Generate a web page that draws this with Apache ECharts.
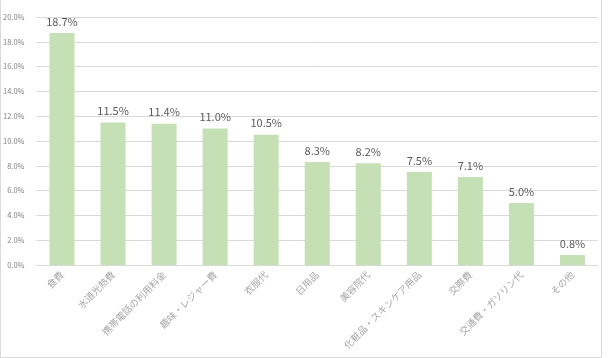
<!DOCTYPE html>
<html><head><meta charset="utf-8">
<script src="https://cdn.jsdelivr.net/npm/echarts@6/dist/echarts.min.js"></script>
<style>html,body{margin:0;padding:0;background:#fff}#c{width:608px;height:358px}#f{position:absolute;left:0;top:0;width:602px;height:358px;box-sizing:border-box;border:1px solid #d9d9d9;border-top:none;pointer-events:none}</style>
</head><body><div id="c"></div><div id="f"></div>
<script>
const categories = ['食費','水道光熱費','携帯電話の利用料金','趣味・レジャー費','衣服代','日用品','美容院代','化粧品・スキンケア用品','交際費','交通費・ガソリン代','その他'];
const values = [18.7,11.5,11.4,11.0,10.5,8.3,8.2,7.5,7.1,5.0,0.8];
const chart = echarts.init(document.getElementById('c'));
const font = '"Noto Sans CJK JP", "Noto Sans", sans-serif';
chart.setOption({
  animation:false,
  grid:{left:36,right:10,top:17,bottom:93,containLabel:false},
  xAxis:{type:'category',data:categories,
    axisLine:{lineStyle:{color:'#d9d9d9'}},axisTick:{show:false},
    axisLabel:{rotate:45,interval:0,color:'#a6a6a6',fontSize:9.5,fontFamily:font,margin:8}},
  yAxis:{type:'value',min:0,max:20,interval:2,
    axisLabel:{formatter:v=>v.toFixed(1)+'%',color:'#7f7f7f',fontSize:7.5,fontFamily:font,margin:12},
    splitLine:{lineStyle:{color:'#d9d9d9'}},axisLine:{show:false},axisTick:{show:false}},
  series:[{type:'bar',data:values,barWidth:'49%',itemStyle:{color:'#c5e0b4'},
    label:{show:true,position:'top',formatter:p=>p.value.toFixed(1)+'%',color:'#595959',fontSize:11,fontFamily:font,distance:6}}]
});
</script></body></html>
